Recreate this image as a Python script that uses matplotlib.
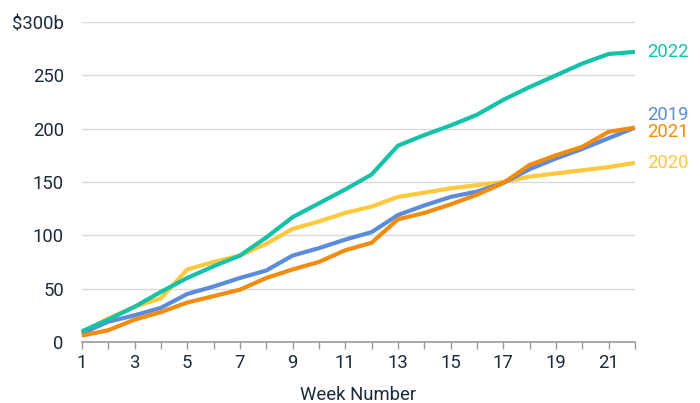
import matplotlib.pyplot as plt

# cumulative totals by week, $ billions
weeks = list(range(1, 23))
v2019 = [8, 19, 25, 32, 45, 52, 60, 67, 81, 88, 96, 103, 119, 128, 136, 141,
         149, 162, 172, 181, 191, 201]
v2020 = [9, 22, 33, 41, 68, 75, 81, 92, 106, 113, 121, 127, 136, 140, 144, 147,
         150, 155, 158, 161, 164, 168]
v2021 = [6, 11, 21, 28, 37, 43, 49, 60, 68, 75, 86, 93, 115, 121, 129, 138,
         149, 166, 175, 183, 197, 201]
v2022 = [10, 21, 33, 47, 60, 71, 81, 98, 117, 130, 143, 157, 184, 194, 203, 213,
         227, 239, 250, 261, 270, 272]

yticks = [0, 50, 100, 150, 200, 250, 300]
ytick_labels = ['0', '50', '100', '150', '200', '250', '$300b']

plt.rcParams['font.family'] = ['Roboto', 'DejaVu Sans']
text_color = '#1c2b3a'
fs = 13.3

fig = plt.figure(figsize=(7, 4.03), dpi=100)
ax = fig.add_axes([0.117, 0.1514, 0.79, 0.794])

# series: values, colour, label offset (points) at the right end
series = [
    ('2020', v2020, '#ffc83d', 0),
    ('2019', v2019, '#5b8bdb', 9),
    ('2021', v2021, '#f28c0f', -3),
    ('2022', v2022, '#14c2a8', 0),
]
for name, vals, color, dy in series:
    ax.plot(weeks, vals, color=color, linewidth=3, solid_joinstyle='miter',
            solid_capstyle='butt', clip_on=False, zorder=3)
    ax.annotate(name, xy=(weeks[-1], vals[-1]), xytext=(9, dy),
                textcoords='offset points', color=color, fontsize=fs,
                va='center', ha='left', annotation_clip=False)

ax.set_xlim(1, 22)
ax.set_ylim(0, 300)
ax.set_yticks(yticks)
ax.set_yticklabels(ytick_labels)
ax.set_xticks(weeks)
ax.set_xticklabels([str(w) if w % 2 == 1 else '' for w in weeks])

ax.grid(axis='y', color='#d9d9d9', linewidth=1)
ax.set_axisbelow(True)
for s in ['left', 'right', 'top']:
    ax.spines[s].set_visible(False)
ax.spines['bottom'].set_color('#999999')
ax.spines['bottom'].set_linewidth(1.2)

ax.tick_params(axis='y', length=0, pad=13, labelsize=fs, labelcolor=text_color)
ax.tick_params(axis='x', length=5, width=1, color='#999999', pad=4,
               labelsize=fs, labelcolor=text_color)
ax.set_xlabel('Week Number', fontsize=fs, color=text_color, labelpad=9.5)

fig.savefig('out.png', dpi=100)
